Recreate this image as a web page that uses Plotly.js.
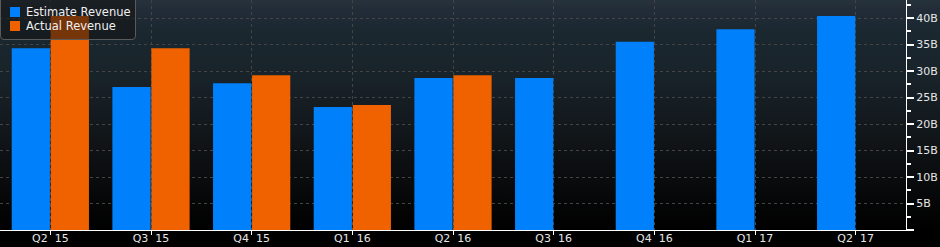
<!DOCTYPE html>
<html>
<head>
<meta charset="utf-8">
<script src="https://cdn.plot.ly/plotly-3.0.1.min.js"></script>
<style>
html,body{margin:0;padding:0;background:#000;}
#wrap{position:relative;width:940px;height:247px;background:linear-gradient(to bottom,#26323b 0px,#222c38 10px,#1b2830 30px,#182229 80px,#12171b 130px,#08090a 190px,#000 230px,#000 247px);}
#chart{width:940px;height:247px;}
#legend{position:absolute;left:0;top:-6px;width:136px;height:46px;box-sizing:border-box;background:rgba(18,18,18,0.55);border:1px solid #5a5a5a;border-radius:4px;font-family:"DejaVu Sans";font-size:11.5px;color:#f0f0f0;}
.item{position:absolute;left:9px;height:14px;line-height:14px;white-space:nowrap;}
.sw{display:inline-block;width:10px;height:10px;vertical-align:-1px;margin-right:6px;}
</style>
</head>
<body>
<div id="wrap"><div id="chart"></div><div id="legend"></div></div>
<script>
const quarters = ["Q2\u00a0\u00a015","Q3\u00a0\u00a015","Q4\u00a0\u00a015","Q1\u00a0\u00a016","Q2\u00a0\u00a016","Q3\u00a0\u00a016","Q4\u00a0\u00a016","Q1\u00a0\u00a017","Q2\u00a0\u00a017"];
const estimateRevenue = [34.3, 27.0, 27.7, 23.2, 28.7, 28.7, 35.5, 37.9, 40.4];
const actualRevenue = [40.4, 34.3, 29.2, 23.6, 29.2, null, null, null, null];
const yTickVals = [0,5,10,15,20,25,30,35,40];
const yTickText = ["","5B","10B","15B","20B","25B","30B","35B","40B"];
const seriesNames = ["Estimate Revenue","Actual Revenue"];
const seriesColors = ["#0080fa","#f06200"];

const font = {family:"DejaVu Sans", size:11, color:"#e6e6e6"};
const data = [
  {type:"bar", name:seriesNames[0], x:quarters, y:estimateRevenue, marker:{color:seriesColors[0]}},
  {type:"bar", name:seriesNames[1], x:quarters, y:actualRevenue, marker:{color:seriesColors[1]}}
];
const layout = {
  width:940, height:247,
  margin:{l:0, r:34, t:0, b:17, pad:0},
  paper_bgcolor:"rgba(0,0,0,0)", plot_bgcolor:"rgba(0,0,0,0)",
  font:font,
  barmode:"group", bargap:0.225, bargroupgap:0.02,
  showlegend:false,
  xaxis:{type:"category", range:[-0.5,8.5], showline:true, linecolor:"#ffffff", linewidth:1,
         ticks:"outside", ticklen:4, tickcolor:"#ffffff", tickwidth:1, ticklabelstandoff:-6,
         showgrid:true, gridcolor:"#444", griddash:"3px,3px", gridwidth:1,
         tickfont:font, fixedrange:true, zeroline:false},
  yaxis:{side:"right", range:[0,43.4], showline:true, linecolor:"#ffffff", linewidth:1,
         tickmode:"array", tickvals:yTickVals, ticktext:yTickText,
         ticks:"outside", ticklen:7, tickwidth:2, tickcolor:"#ffffff",
         minor:{dtick:2.5, tick0:0, ticks:"outside", ticklen:4, tickcolor:"#ffffff", showgrid:false},
         showgrid:true, gridcolor:"#444", griddash:"3px,3px", gridwidth:1,
         zeroline:false, tickfont:font, fixedrange:true}
};
Plotly.newPlot("chart", data, layout, {displayModeBar:false, staticPlot:true});

const leg = document.getElementById("legend");
seriesNames.forEach((n,i)=>{
  const d = document.createElement("div");
  d.className = "item";
  d.style.top = (10 + i*14) + "px";
  const s = document.createElement("span");
  s.className = "sw"; s.style.background = seriesColors[i];
  d.appendChild(s);
  d.appendChild(document.createTextNode(n));
  leg.appendChild(d);
});
</script>
</body>
</html>
